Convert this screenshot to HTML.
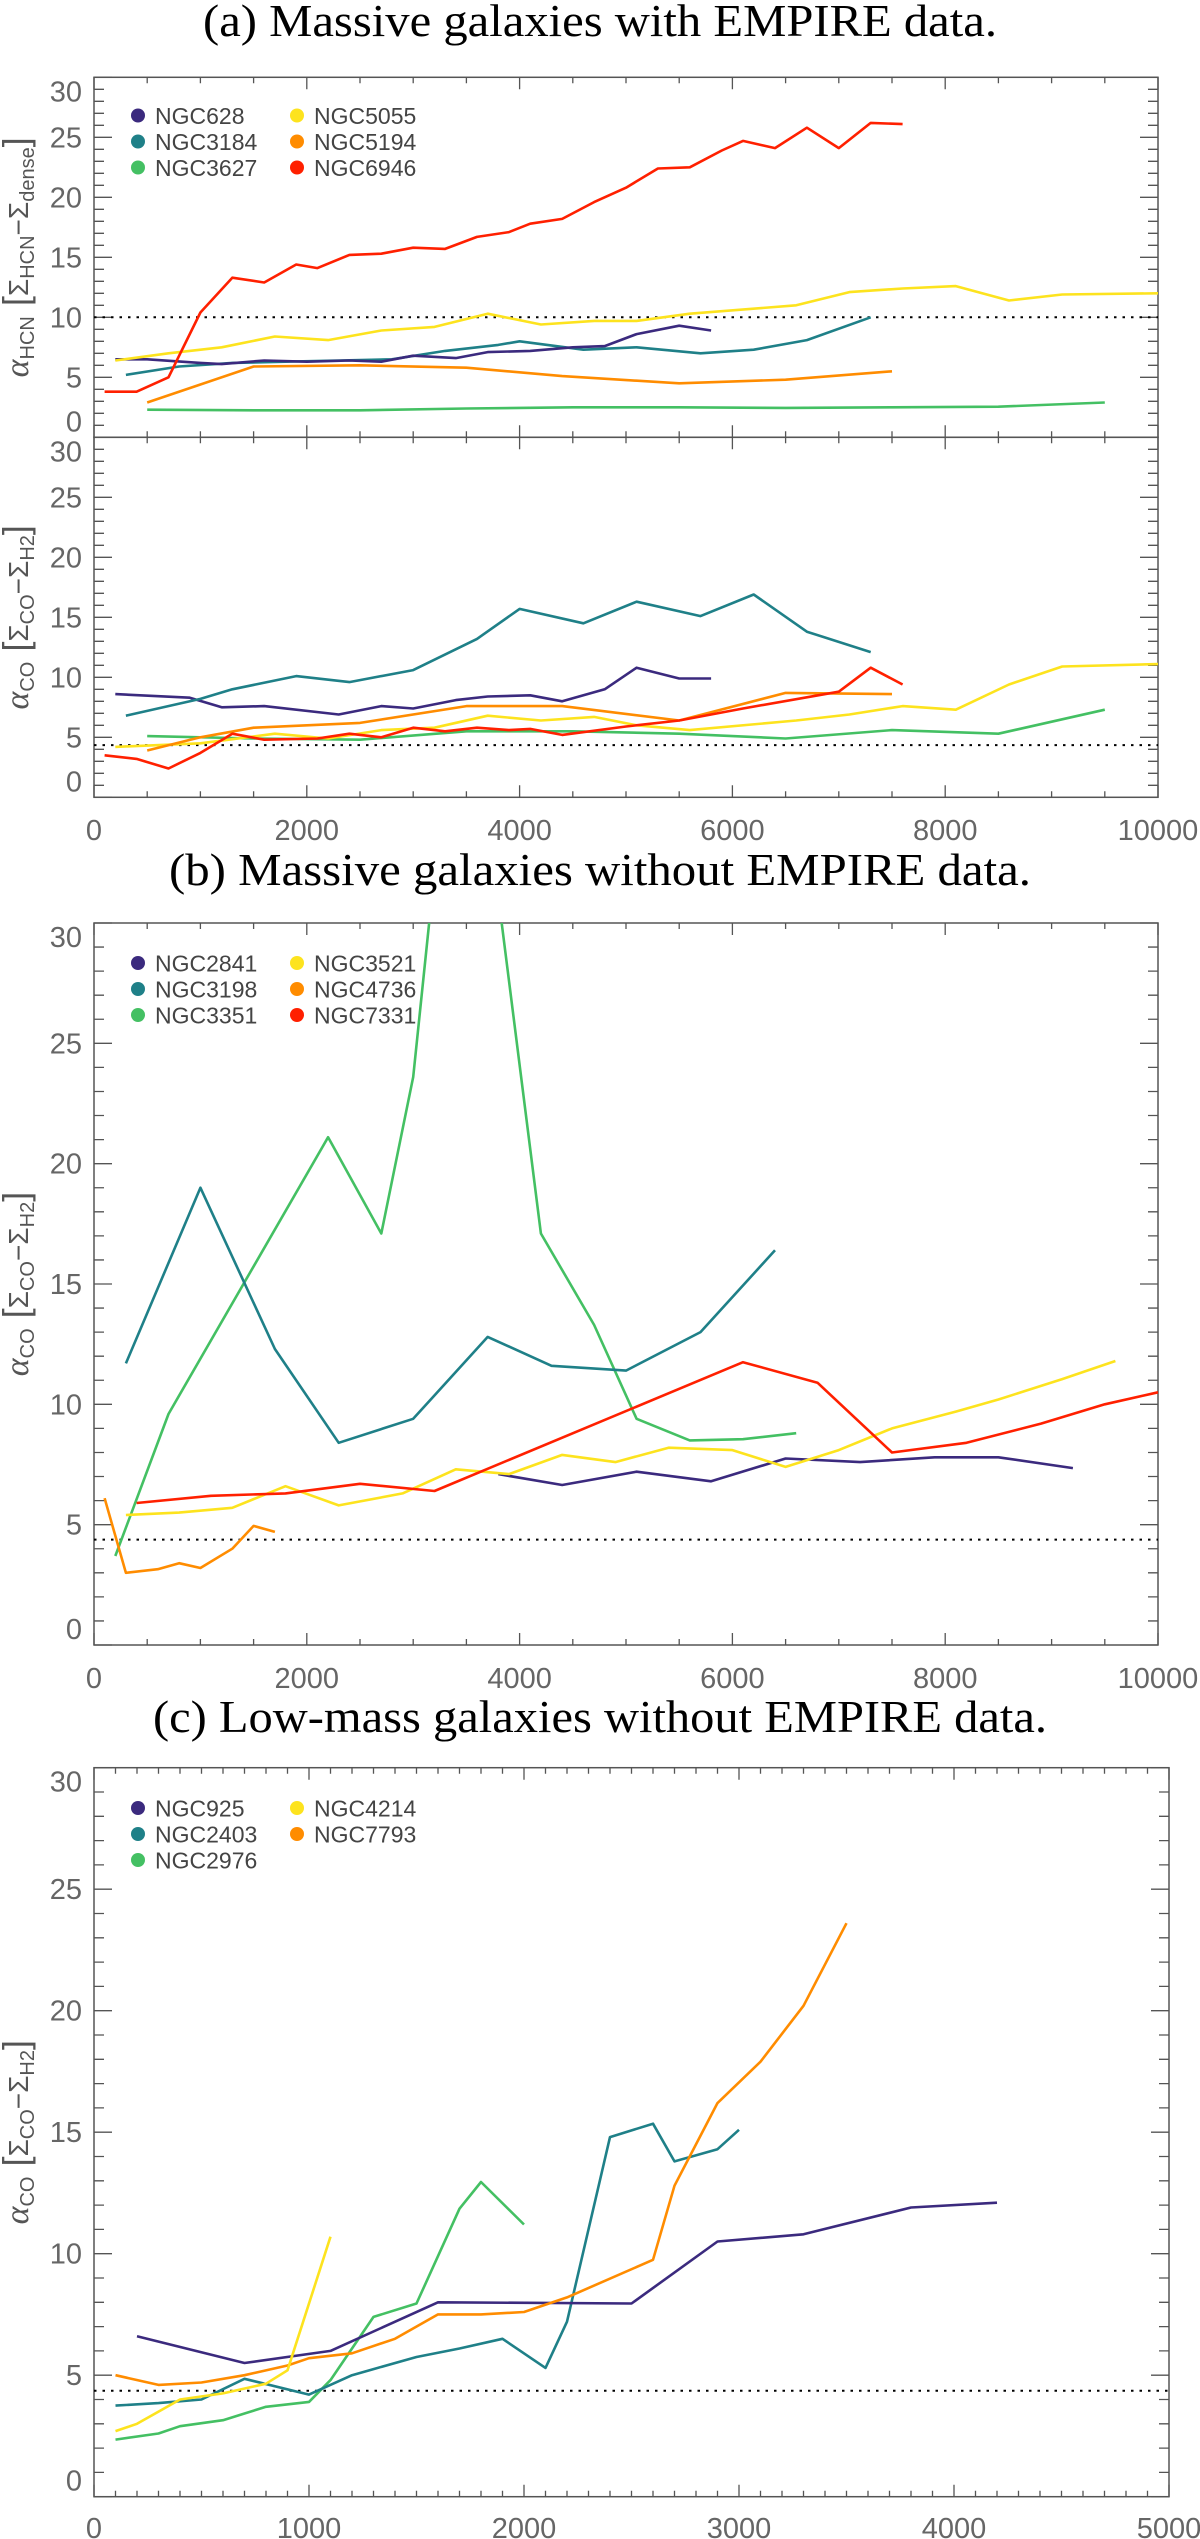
<!DOCTYPE html>
<html><head><meta charset="utf-8"><style>
html,body{margin:0;padding:0;background:#fff;}
svg{display:block;}
</style></head><body>
<svg id="fig" width="1200" height="2539" viewBox="0 0 1200 2539" xmlns="http://www.w3.org/2000/svg">
<text x="600" y="36" text-anchor="middle" font-family="Liberation Serif, serif" font-size="46" textLength="794" lengthAdjust="spacingAndGlyphs">(a) Massive galaxies with EMPIRE data.</text>
<text x="600" y="885" text-anchor="middle" font-family="Liberation Serif, serif" font-size="46" textLength="862" lengthAdjust="spacingAndGlyphs">(b) Massive galaxies without EMPIRE data.</text>
<text x="600" y="1732" text-anchor="middle" font-family="Liberation Serif, serif" font-size="46" textLength="894" lengthAdjust="spacingAndGlyphs">(c) Low-mass galaxies without EMPIRE data.</text>
</svg>
<script>
const C_PURPLE="#3b2a7e",C_TEAL="#1f8088",C_GREEN="#44c063",C_YELLOW="#fde31e",C_ORANGE="#ff8c00",C_RED="#ff2000";

// ---- Panel a (top): alpha_HCN ----
const a1_ngc6946_x=[100,400,700,1000,1300,1600,1900,2100,2400,2700,3000,3300,3600,3900,4100,4400,4700,5000,5300,5600,5900,6100,6400,6700,7000,7300,7600];
const a1_ngc6946_y=[3.8,3.8,5.0,10.4,13.3,12.9,14.4,14.1,15.2,15.3,15.8,15.7,16.7,17.1,17.8,18.2,19.6,20.8,22.4,22.5,23.9,24.7,24.1,25.8,24.1,26.2,26.1];
const a1_ngc5055_x=[200,700,1200,1700,2200,2700,3200,3700,4200,4700,5100,5600,6600,7100,7600,8100,8600,9100,10000];
const a1_ngc5055_y=[6.4,7.0,7.5,8.4,8.1,8.9,9.2,10.3,9.4,9.7,9.7,10.3,11.0,12.1,12.4,12.6,11.4,11.9,12.0];
const a1_ngc3184_x=[300,800,1300,1800,2300,2800,3300,3800,4000,4600,5100,5700,6200,6700,7300];
const a1_ngc3184_y=[5.2,5.9,6.2,6.3,6.4,6.5,7.2,7.7,8.0,7.3,7.5,7.0,7.3,8.1,10.0];
const a1_ngc628_x=[200,500,1000,1200,1600,2000,2400,2700,3000,3400,3700,4100,4500,4800,5100,5500,5800];
const a1_ngc628_y=[6.5,6.5,6.2,6.1,6.4,6.3,6.4,6.3,6.8,6.6,7.1,7.2,7.5,7.6,8.6,9.3,8.9];
const a1_ngc5194_x=[500,1000,1500,2500,3500,4400,5500,6500,7500];
const a1_ngc5194_y=[2.9,4.4,5.9,6.0,5.8,5.1,4.5,4.8,5.5];
const a1_ngc3627_x=[500,1500,2500,3500,4500,5500,6500,7500,8500,9500];
const a1_ngc3627_y=[2.3,2.25,2.25,2.4,2.5,2.5,2.45,2.5,2.55,2.9];

// ---- Panel a (bottom): alpha_CO ----
const a2_ngc3184_x=[300,1000,1300,1900,2400,3000,3600,4000,4600,5100,5700,6200,6700,7300];
const a2_ngc3184_y=[6.8,8.2,9.0,10.1,9.6,10.6,13.2,15.7,14.5,16.3,15.1,16.9,13.8,12.1];
const a2_ngc628_x=[200,900,1200,1600,2300,2700,3000,3400,3700,4100,4400,4800,5100,5500,5800];
const a2_ngc628_y=[8.6,8.3,7.5,7.6,6.9,7.6,7.4,8.1,8.4,8.5,8.0,9.0,10.8,9.9,9.9];
const a2_ngc5055_x=[200,1000,1700,2200,2700,3200,3700,4200,4700,5100,5600,6600,7100,7600,8100,8600,9100,10000];
const a2_ngc5055_y=[4.2,4.5,5.3,4.9,5.6,5.8,6.8,6.4,6.7,6.0,5.6,6.4,6.9,7.6,7.3,9.4,10.9,11.1];
const a2_ngc5194_x=[500,1000,1500,2500,3500,4400,5500,6500,7500];
const a2_ngc5194_y=[3.9,5.0,5.8,6.2,7.6,7.6,6.4,8.7,8.6];
const a2_ngc3627_x=[500,1500,2500,3500,4500,5500,6500,7500,8500,9500];
const a2_ngc3627_y=[5.1,4.9,4.8,5.5,5.5,5.3,4.9,5.6,5.3,7.3];
const a2_ngc6946_x=[100,400,700,1000,1300,1600,2100,2400,2700,3000,3300,3600,3900,4100,4400,5000,5500,6100,7000,7300,7600];
const a2_ngc6946_y=[3.5,3.2,2.4,3.7,5.3,4.8,4.9,5.3,5.0,5.8,5.5,5.8,5.6,5.7,5.2,5.9,6.4,7.4,8.8,10.8,9.4];

// ---- Panel b ----
const b_ngc3351_x=[200,700,2200,2700,3000,3300,3700,4200,4700,5100,5600,6100,6600];
const b_ngc3351_y=[3.7,9.6,21.1,17.1,23.6,36.4,34.6,17.1,13.3,9.4,8.5,8.55,8.8];
const b_ngc3198_x=[300,1000,1700,2300,3000,3700,4300,5000,5700,6400];
const b_ngc3198_y=[11.7,19.0,12.3,8.4,9.4,12.8,11.6,11.4,13.0,16.4];
const b_ngc3521_x=[300,800,1300,1800,2300,2900,3400,3900,4400,4900,5400,6000,6500,7000,7500,8100,8500,9100,9600];
const b_ngc3521_y=[5.4,5.5,5.7,6.6,5.8,6.3,7.3,7.1,7.9,7.6,8.2,8.1,7.4,8.1,9.0,9.7,10.2,11.05,11.8];
const b_ngc7331_x=[400,1100,1800,2500,3200,6100,6800,7500,8200,8900,9500,10000];
const b_ngc7331_y=[5.9,6.2,6.3,6.7,6.4,11.75,10.9,8.0,8.4,9.2,10.0,10.5];
const b_ngc2841_x=[3800,4400,5100,5800,6500,7200,7900,8500,9200];
const b_ngc2841_y=[7.1,6.65,7.2,6.8,7.75,7.6,7.8,7.8,7.35];
const b_ngc4736_x=[100,300,600,800,1000,1300,1500,1700];
const b_ngc4736_y=[6.1,3.0,3.15,3.4,3.2,4.0,4.95,4.7];

// ---- Panel c ----
const c_ngc925_x=[200,700,1100,1600,2500,2900,3300,3800,4200];
const c_ngc925_y=[6.6,5.5,6.0,8.0,7.95,10.5,10.8,11.9,12.1];
const c_ngc2403_x=[100,300,500,700,1000,1200,1300,1500,1700,1900,2100,2200,2400,2600,2700,2900,3000];
const c_ngc2403_y=[3.75,3.85,4.0,4.85,4.2,5.0,5.25,5.75,6.1,6.5,5.3,7.2,14.8,15.35,13.8,14.3,15.1];
const c_ngc2976_x=[100,300,400,600,800,1000,1100,1300,1500,1700,1800,2000];
const c_ngc2976_y=[2.35,2.6,2.9,3.15,3.7,3.9,4.8,7.4,7.95,11.85,12.95,11.2];
const c_ngc4214_x=[100,200,400,600,800,900,1100];
const c_ngc4214_y=[2.7,3.0,4.0,4.25,4.65,5.2,10.7];
const c_ngc7793_x=[100,300,500,700,900,1000,1200,1400,1600,1800,2000,2200,2600,2700,2900,3100,3300,3500];
const c_ngc7793_y=[5.0,4.6,4.7,5.0,5.4,5.7,5.9,6.5,7.5,7.5,7.6,8.2,9.75,12.8,16.2,17.9,20.2,23.6];

const yTicks=[0,5,10,15,20,25,30];
const xTicksAB=[0,2000,4000,6000,8000,10000];
const xTicksC=[0,1000,2000,3000,4000,5000];

const NS="http://www.w3.org/2000/svg";
const svg=document.getElementById('fig');
function mk(tag,attrs,parent){const e=document.createElementNS(NS,tag);for(const k in attrs)e.setAttribute(k,attrs[k]);(parent||svg).appendChild(e);return e;}

function panel(name,x0,x1,yT,yB,xmax,minorX){
  const g=mk('g',{});
  
  
  const sx=v=>x0+(x1-x0)*v/xmax, sy=v=>yB-(yB-yT)*v/30;
  const fr=mk('rect',{x:x0,y:yT,width:x1-x0,height:yB-yT,fill:'none',stroke:'#555','stroke-width':1.5},g);
  
  
  let d='';
  for(let v=0;v<=30;v++){const y=sy(v);const L=(v%5===0)?18:10;d+=`M${x0},${y}h${L}M${x1},${y}h${-L}`;}
  for(let v=0;v<=xmax+1e-6;v+=minorX){const x=sx(v);const major=(xmax===5000?v%1000===0:v%2000===0);const L=major?12:6;d+=`M${x},${yB}v${-L}M${x},${yT}v${L}`;}
  const t=mk('path',{d:d,stroke:'#555','stroke-width':1.3,fill:'none'},g);
  
  
  return {g,sx,sy,x0,x1,yT,yB};
}
function yLabels(p,name){
  yTicks.forEach(v=>{
    let y=p.sy(v)+10;
    if(v===30)y=p.yT+24; if(v===0)y=p.yB-6;
    const t=mk('text',{x:82,y:y,'text-anchor':'end','font-family':'Liberation Sans, sans-serif','font-size':29,fill:'#666'},p.g);
    t.textContent=v;
    
    
  });
}
function xLabels(p,ticks,y,name){
  ticks.forEach(v=>{
    const t=mk('text',{x:p.sx(v),y:y,'text-anchor':'middle','font-family':'Liberation Sans, sans-serif','font-size':29,fill:'#666'},p.g);
    t.textContent=v;
    
    
  });
}
function series(p,xs,ys,color,name){
  const pts=xs.map((x,i)=>`${p.sx(x).toFixed(1)},${p.sy(ys[i]).toFixed(1)}`).join(' ');
  const l=mk('polyline',{points:pts,fill:'none',stroke:color,'stroke-width':2.6,'stroke-linejoin':'round'},p.g);
  
  
}
function refLine(p,v,name){
  const l=mk('line',{x1:p.x0,x2:p.x1,y1:p.sy(v),y2:p.sy(v),stroke:'#000','stroke-width':2,'stroke-dasharray':'2.5,6'},p.g);
  
  
}
function legend(p,entries,y0,name){
  entries.forEach((e,i)=>{
    const col=Math.floor(i/3),row=i%3;
    const cx=138+col*159, cy=y0+row*26;
    const c=mk('circle',{cx:cx,cy:cy,r:7,fill:e[1]},p.g);
    
    
    const t=mk('text',{x:cx+17,y:cy+8.5,'font-family':'Liberation Sans, sans-serif','font-size':23,fill:'#444'},p.g);
    t.textContent=e[0];
    
    
  });
}
function yTitle(p,sub1,sub2,sub3,name){
  const cy=(p.yT+p.yB)/2;
  const t=mk('text',{x:0,y:0,transform:`translate(28,${cy}) rotate(-90)`,'text-anchor':'middle','font-family':'Liberation Sans, DejaVu Sans, sans-serif','font-size':28,fill:'#555'},p.g);
  
  
  t.innerHTML=`<tspan font-family="Liberation Serif, serif" font-style="italic" font-size="34">α</tspan><tspan font-size="20" dy="6">${sub1}</tspan><tspan dy="-6" font-size="36">  [</tspan><tspan>Σ</tspan><tspan font-size="20" dy="6">${sub2}</tspan><tspan dy="-6">−Σ</tspan><tspan font-size="20" dy="6">${sub3}</tspan><tspan dy="-6" font-size="36">]</tspan>`;
}

// Panel a
const pa1=panel('panel-a-hcn',94,1158,77.3,437.3,10000,500);
yLabels(pa1,'panel-a-hcn');
refLine(pa1,10,'panel-a-hcn-reference-line');
series(pa1,a1_ngc3627_x,a1_ngc3627_y,C_GREEN,'line-ngc3627');
series(pa1,a1_ngc5194_x,a1_ngc5194_y,C_ORANGE,'line-ngc5194');
series(pa1,a1_ngc3184_x,a1_ngc3184_y,C_TEAL,'line-ngc3184');
series(pa1,a1_ngc628_x,a1_ngc628_y,C_PURPLE,'line-ngc628');
series(pa1,a1_ngc5055_x,a1_ngc5055_y,C_YELLOW,'line-ngc5055');
series(pa1,a1_ngc6946_x,a1_ngc6946_y,C_RED,'line-ngc6946');
legend(pa1,[['NGC628',C_PURPLE],['NGC3184',C_TEAL],['NGC3627',C_GREEN],['NGC5055',C_YELLOW],['NGC5194',C_ORANGE],['NGC6946',C_RED]],115.5,'panel-a');
yTitle(pa1,'HCN','HCN','dense','panel-a-hcn-y-axis-title');

const pa2=panel('panel-a-co',94,1158,437.3,797.3,10000,500);
yLabels(pa2,'panel-a-co');
xLabels(pa2,xTicksAB,840,'panel-a');
refLine(pa2,4.35,'panel-a-co-reference-line');
series(pa2,a2_ngc3627_x,a2_ngc3627_y,C_GREEN,'line-ngc3627-co');
series(pa2,a2_ngc5055_x,a2_ngc5055_y,C_YELLOW,'line-ngc5055-co');
series(pa2,a2_ngc5194_x,a2_ngc5194_y,C_ORANGE,'line-ngc5194-co');
series(pa2,a2_ngc628_x,a2_ngc628_y,C_PURPLE,'line-ngc628-co');
series(pa2,a2_ngc3184_x,a2_ngc3184_y,C_TEAL,'line-ngc3184-co');
series(pa2,a2_ngc6946_x,a2_ngc6946_y,C_RED,'line-ngc6946-co');
yTitle(pa2,'CO','CO','H2','panel-a-co-y-axis-title');

// Panel b
const pb=panel('panel-b',94,1158,923,1645,10000,500);
const clipB=mk('clipPath',{id:'clipb'});
mk('rect',{x:94,y:923,width:1064,height:722},clipB);
yLabels(pb,'panel-b');
xLabels(pb,xTicksAB,1688,'panel-b');
refLine(pb,4.38,'panel-b-reference-line');
const gb=pb.g;
series(pb,b_ngc3351_x,b_ngc3351_y,C_GREEN,'line-ngc3351');
gb.lastChild.setAttribute('clip-path','url(#clipb)');
series(pb,b_ngc3198_x,b_ngc3198_y,C_TEAL,'line-ngc3198');
series(pb,b_ngc2841_x,b_ngc2841_y,C_PURPLE,'line-ngc2841');
series(pb,b_ngc3521_x,b_ngc3521_y,C_YELLOW,'line-ngc3521');
series(pb,b_ngc7331_x,b_ngc7331_y,C_RED,'line-ngc7331');
series(pb,b_ngc4736_x,b_ngc4736_y,C_ORANGE,'line-ngc4736');
legend(pb,[['NGC2841',C_PURPLE],['NGC3198',C_TEAL],['NGC3351',C_GREEN],['NGC3521',C_YELLOW],['NGC4736',C_ORANGE],['NGC7331',C_RED]],963,'panel-b');
yTitle(pb,'CO','CO','H2','panel-b-y-axis-title');

// Panel c
const pc=panel('panel-c',94,1169,1767.7,2496.7,5000,100);
yLabels(pc,'panel-c');
xLabels(pc,xTicksC,2538,'panel-c');
refLine(pc,4.36,'panel-c-reference-line');
series(pc,c_ngc2976_x,c_ngc2976_y,C_GREEN,'line-ngc2976');
series(pc,c_ngc2403_x,c_ngc2403_y,C_TEAL,'line-ngc2403');
series(pc,c_ngc925_x,c_ngc925_y,C_PURPLE,'line-ngc925');
series(pc,c_ngc7793_x,c_ngc7793_y,C_ORANGE,'line-ngc7793');
series(pc,c_ngc4214_x,c_ngc4214_y,C_YELLOW,'line-ngc4214');
legend(pc,[['NGC925',C_PURPLE],['NGC2403',C_TEAL],['NGC2976',C_GREEN],['NGC4214',C_YELLOW],['NGC7793',C_ORANGE]],1808,'panel-c');
yTitle(pc,'CO','CO','H2','panel-c-y-axis-title');
</script>
</body></html>
